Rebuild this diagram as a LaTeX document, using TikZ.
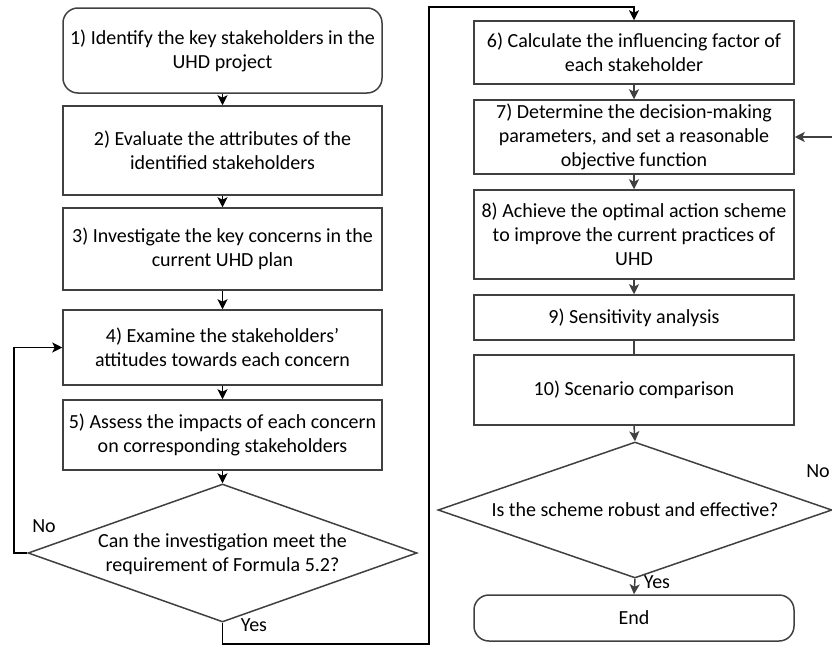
\documentclass[tikz,border=0pt]{standalone}
\usepackage{fontspec}
\setmainfont{Carlito}
\usetikzlibrary{shapes.geometric,arrows.meta}
\definecolor{boxline}{HTML}{404040}
\begin{document}
\begin{tikzpicture}[x=1pt,y=-1pt,
  every node/.style={font=\fontsize{20}{24}\selectfont, align=center, inner sep=0pt},
  stepbox/.style={draw=boxline, line width=1.5pt, minimum width=#1},
  stepbox/.default=319pt,
  termbox/.style={stepbox=#1, rounded corners=15pt},
  termbox/.default=319pt,
  decision/.style={draw=boxline, line width=1.5pt, diamond, inner sep=0pt},
  flow/.style={line width=1.5pt, -{Stealth[length=10pt,width=10pt,inset=2.5pt]}},
  flowL/.style={flow, draw=black},
  flowR/.style={flow, draw=boxline},
  lbl/.style={font=\fontsize{20}{24}\selectfont}
]
\useasboundingbox (0,0) rectangle (832,648);

% left column
\node[termbox, minimum height=85pt] (s1) at (222.5,50.5) {1) Identify the key stakeholders in the\\UHD project};
\node[stepbox, minimum height=89pt] (s2) at (222.5,150.5) {2) Evaluate the attributes of the\\identified stakeholders};
\node[stepbox, minimum height=82pt] (s3) at (222.5,249) {3) Investigate the key concerns in the\\current UHD plan};
\node[stepbox, minimum height=75pt] (s4) at (222.5,347.5) {4) Examine the stakeholders’\\attitudes towards each concern};
\node[stepbox, minimum height=70pt] (s5) at (222.5,435) {5) Assess the impacts of each concern\\on corresponding stakeholders};
\node[decision, minimum width=389pt, minimum height=138pt] (d1) at (222.5,553) {};
\node (d1t) at (222.5,554) {Can the investigation meet the\\requirement of Formula 5.2?};

% right column
\node[stepbox=320pt, minimum height=63pt] (s6) at (634,52.5) {6) Calculate the influencing factor of\\each stakeholder};
\node[stepbox=320pt, minimum height=74pt] (s7) at (634,137) {7) Determine the decision-making\\parameters, and set a reasonable\\objective function};
\node[stepbox=320pt, minimum height=89pt] (s8) at (634,234.5) {8) Achieve the optimal action scheme\\to improve the current practices of\\UHD};
\node[stepbox=320pt, minimum height=45pt] (s9) at (634,317.5) {9) Sensitivity analysis};
\node[stepbox=320pt, minimum height=70pt] (s10) at (634,390) {10) Scenario comparison};
\node[decision, minimum width=394pt, minimum height=136pt] (d2) at (635,510) {};
\node (d2t) at (635,510) {Is the scheme robust and effective?};
\node[termbox=320pt, minimum height=46pt] (end) at (634,618) {End};

% labels
\node[lbl] (no1) at (44,526) {No};
\node[lbl] (yes1) at (254,625) {Yes};
\node[lbl] (no2) at (818,471) {No};
\node[lbl] (yes2) at (657,582) {Yes};

% connectors, left column
\draw[flowL] (s1) -- (s2);
\draw[flowL] (s2) -- (s3);
\draw[flowL] (s3) -- (s4);
\draw[flowL] (s4) -- (s5);
\draw[flowL] (s5) -- (d1.north);
\coordinate (loopL) at (14,553);
\draw[flowL] (d1.west) -- (loopL) |- (s4.west);
\coordinate (yb) at (222.5,644);
\coordinate (yt) at (429,7);
\draw[flowL] (d1.south) -- (yb) -| (yt) -| (s6.north);

% connectors, right column
\draw[flowR] (s6) -- (s7);
\draw[flowR] (s7) -- (s8);
\draw[flowR] (s8) -- (s9);
\draw[draw=boxline, line width=1.5pt] (s9) -- (s10);
\draw[flowR] (s10.south) -- (d2.north);
\draw[flowR] (d2.south) -- (end.north);
\coordinate (back) at (832,137);
\draw[flowR] (back) -- (s7.east);
\end{tikzpicture}
\end{document}
